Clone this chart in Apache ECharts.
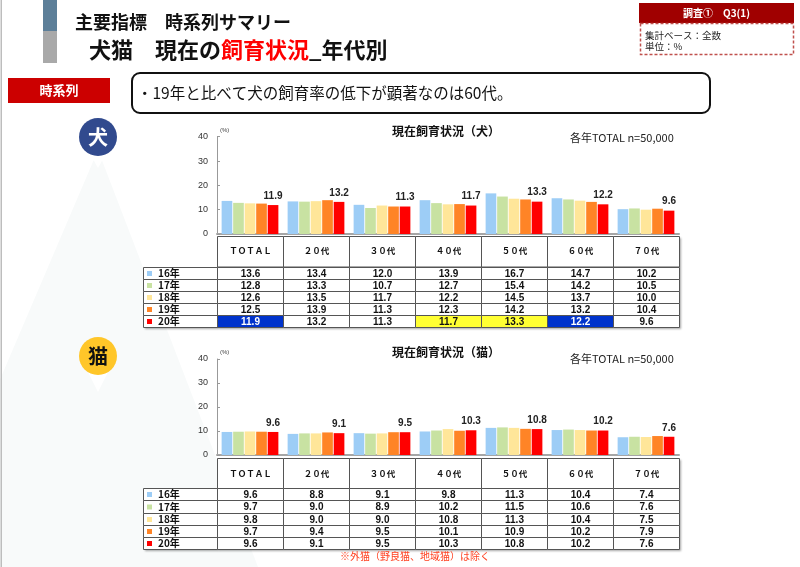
<!DOCTYPE html>
<html><head><meta charset="utf-8">
<script src="https://cdn.jsdelivr.net/npm/echarts@6/dist/echarts.min.js"></script>
<style>html,body{margin:0;padding:0;background:#fff}#c{width:800px;height:567px}</style>
</head><body><div id="c"></div>
<script>
// ---- data ----
const categories = ['ＴＯＴＡＬ','２０代','３０代','４０代','５０代','６０代','７０代'];
const years = ['16年','17年','18年','19年','20年'];
const dog16 = [13.6,13.4,12.0,13.9,16.7,14.7,10.2];
const dog17 = [12.8,13.3,10.7,12.7,15.4,14.2,10.5];
const dog18 = [12.6,13.5,11.7,12.2,14.5,13.7,10.0];
const dog19 = [12.5,13.9,11.3,12.3,14.2,13.2,10.4];
const dog20 = [11.9,13.2,11.3,11.7,13.3,12.2,9.6];
const cat16 = [9.6,8.8,9.1,9.8,11.3,10.4,7.4];
const cat17 = [9.7,9.0,8.9,10.2,11.5,10.6,7.6];
const cat18 = [9.8,9.0,9.0,10.8,11.3,10.4,7.5];
const cat19 = [9.7,9.4,9.5,10.1,10.9,10.2,7.9];
const cat20 = [9.6,9.1,9.5,10.3,10.8,10.2,7.6];
const yMin = 0, yMax = 40, yInterval = 10;
const dogSeries = [dog16,dog17,dog18,dog19,dog20];
const catSeries = [cat16,cat17,cat18,cat19,cat20];

// ---- styles ----
const colors = ['#9DCDF6','#C8E2A2','#FFE699','#FF8426','#FF0000'];
const JP = '"Noto Sans CJK JP", sans-serif';
const NUM = '"Liberation Sans", Arial, sans-serif';
const BLUE = '#0033CC', YELLOW = '#FFFF33';
const dogHighlight = {0:[BLUE,'#fff'],3:[YELLOW,'#111'],4:[YELLOW,'#111'],5:[BLUE,'#fff']};

const tableLeft = 217, colW = 66, legendLeft = 143;

function T(x, y, text, font, fill, align, extra) {
  return Object.assign({type:'text', x:x, y:y, z:20, style:{text:text, font:font, fill:fill,
    align:align||'left', verticalAlign:'middle'}}, extra||{});
}
function R(x, y, w, h, fill, stroke, lw, extra) {
  return Object.assign({type:'rect', z:10, shape:{x:x, y:y, width:w, height:h},
    style:{fill:fill, stroke:stroke||null, lineWidth:lw||1}}, extra||{});
}

function buildTable(top, headerH, rowH, series, hl) {
  const els = [];
  const nCol = categories.length;
  const right = tableLeft + colW*nCol;
  const bodyTop = top + headerH;
  const bottom = bodyTop + rowH*years.length;
  els.push(R(tableLeft+0.5, top+0.5, right-tableLeft, bottom-top, '#fff', null, 1,
    {z:8, style:{fill:'#fff', shadowColor:'rgba(0,0,0,0.35)', shadowOffsetX:1.5, shadowOffsetY:1.5, shadowBlur:2}}));
  els.push(R(legendLeft+0.5, bodyTop+0.5, tableLeft-legendLeft, bottom-bodyTop, '#fff', null, 1,
    {z:8, style:{fill:'#fff', shadowColor:'rgba(0,0,0,0.35)', shadowOffsetX:1.5, shadowOffsetY:1.5, shadowBlur:2}}));
  for (let c=0;c<nCol;c++){
    const x = Math.round(tableLeft+colW*c)+0.5;
    els.push(R(x, Math.round(top)+0.5, colW, headerH, '#fff', '#555', 1));
    els.push(T(x+colW/2, top+headerH/2, categories[c], 'bold 8.5px '+JP, '#111', 'center'));
  }
  for (let r=0;r<years.length;r++){
    const y = Math.round(bodyTop+rowH*r)+0.5;
    const h = Math.round(bodyTop+rowH*(r+1)) - Math.round(bodyTop+rowH*r);
    els.push(R(legendLeft+0.5, y, tableLeft-legendLeft, h, '#fff', '#555', 1));
    els.push(R(legendLeft+4, y+h/2-2.5, 5, 5, colors[r], null, 1, {z:12}));
    els.push(T(legendLeft+15, y+h/2, years[r], 'bold 10px '+JP, '#111', 'left'));
    for (let c=0;c<nCol;c++){
      const x = Math.round(tableLeft+colW*c)+0.5;
      let fill = '#fff', tc = '#111';
      if (r===years.length-1 && hl && hl[c]) { fill = hl[c][0]; tc = hl[c][1]; }
      els.push(R(x, y, colW, h, fill, '#555', 1));
      els.push(T(x+colW/2, y+h/2+0.5, series[r][c].toFixed(1), 'bold 10px '+NUM, tc, 'center'));
    }
  }
  return els;
}

const graphics = [];
graphics.push({type:'polygon', z:0, shape:{points:[[98,150],[-80,567],[258,567]]}, style:{fill:'#F8FAFA'}});
graphics.push({type:'polygon', z:1, shape:{points:[[88,150],[108,150],[98,168]]}, style:{fill:'#fff'}});
graphics.push({type:'polygon', z:1, shape:{points:[[87,370],[109,370],[98,392]]}, style:{fill:'#fff'}});
graphics.push(R(0.5, 0, 1.5, 567, '#BDBDBD', null, 1, {z:5}));
graphics.push(R(43, 0, 14, 31, '#5D7F99', null, 1, {z:5}));
graphics.push(R(43, 31, 14, 32, '#A9A9A9', null, 1, {z:5}));
graphics.push(T(75, 22, '主要指標　時系列サマリー', 'bold 18px '+JP, '#111', 'left'));
graphics.push({type:'text', x:89, y:50, z:20, style:{
  text:'{a|犬猫　現在の}{r|飼育状況}{a|_年代別}', verticalAlign:'middle', align:'left',
  rich:{a:{font:'bold 22px '+JP, fill:'#111', color:'#111'}, r:{font:'bold 22px '+JP, fill:'#FF0000', color:'#FF0000'}}}});
graphics.push(R(639, 3, 155, 20, '#A00000', null, 1, {z:6}));
graphics.push(T(716.5, 13, '調査①　Q3(1)', 'bold 10px '+JP, '#fff', 'center'));
graphics.push({type:'rect', z:6, shape:{x:640.5, y:23.5, width:153, height:31}, style:{fill:'#fff', stroke:'#C0504D', lineWidth:1.5, lineDash:[3,2]}});
graphics.push(T(645, 35, '集計ベース：全数', '9.5px '+JP, '#222', 'left'));
graphics.push(T(645, 46.5, '単位：%', '9.5px '+JP, '#222', 'left'));
graphics.push(R(8, 78, 102, 25, '#CC0000', null, 1, {z:6}));
graphics.push(T(59, 90.5, '時系列', 'bold 13px '+JP, '#fff', 'center'));
graphics.push({type:'rect', z:6, shape:{x:132, y:73, width:578, height:40, r:8}, style:{fill:'#fff', stroke:'#111', lineWidth:2}});
graphics.push(T(137, 93.5, '・19年と比べて犬の飼育率の低下が顕著なのは60代。', '15.5px '+JP, '#111', 'left'));
graphics.push({type:'circle', z:6, shape:{cx:98, cy:137, r:19}, style:{fill:'#314A8E'}});
graphics.push(T(98, 137, '犬', 'bold 20px '+JP, '#fff', 'center'));
graphics.push({type:'circle', z:6, shape:{cx:98, cy:356, r:19}, style:{fill:'#FFC629'}});
graphics.push(T(98, 356, '猫', 'bold 20px '+JP, '#111', 'center'));
graphics.push(T(446, 131, '現在飼育状況（犬）', 'bold 12px '+JP, '#111', 'center'));
graphics.push(T(570, 137.5, '各年TOTAL n=50,000', '11px '+JP, '#222', 'left'));
graphics.push(T(220, 130, '(%)', '6px '+NUM, '#444', 'left'));
graphics.push(T(446, 352.5, '現在飼育状況（猫）', 'bold 12px '+JP, '#111', 'center'));
graphics.push(T(570, 358.5, '各年TOTAL n=50,000', '11px '+JP, '#222', 'left'));
graphics.push(T(220, 352, '(%)', '6px '+NUM, '#444', 'left'));
graphics.push(T(415, 556, '※外猫（野良猫、地域猫）は除く', '10px '+JP, '#FF4020', 'center'));
buildTable(236, 30.5, 12.1, dogSeries, dogHighlight).forEach(e=>graphics.push(e));
buildTable(458.3, 30, 12.15, catSeries, null).forEach(e=>graphics.push(e));

function makeSeries(arrs, idx) {
  return arrs.map((d,k)=>({
    type:'bar', name:years[k], xAxisIndex:idx, yAxisIndex:idx, data:d,
    barGap:'8%', barCategoryGap:'14%', z:3,
    itemStyle:{color:colors[k]},
    label: k===arrs.length-1 ? {show:true, position:'top', distance:4,
      formatter:p=>p.value.toFixed(1), fontWeight:'bold', fontSize:10, fontFamily:NUM, color:'#222'} : {show:false}
  }));
}

const chart = echarts.init(document.getElementById('c'), null, {renderer:'canvas'});
chart.setOption({
  animation:false,
  grid:[{left:217, top:136.7, width:462, height:97.3}, {left:217, top:359, width:462, height:96}],
  xAxis:[0,1].map(i=>({type:'category', gridIndex:i, data:categories,
    axisLabel:{show:false}, axisTick:{show:false},
    axisLine:{show:true, lineStyle:{color:'#A6A6A6', width:2}}})),
  yAxis:[0,1].map(i=>({type:'value', gridIndex:i, min:yMin, max:yMax, interval:yInterval,
    splitLine:{show:false},
    axisLine:{show:true, lineStyle:{color:'#999', width:1}},
    axisTick:{show:true, inside:true, length:3, lineStyle:{color:'#999'}},
    axisLabel:{fontSize:9, color:'#333', margin:9, fontFamily:NUM}})),
  series: makeSeries(dogSeries,0).concat(makeSeries(catSeries,1)),
  graphic: graphics
});
</script></body></html>
